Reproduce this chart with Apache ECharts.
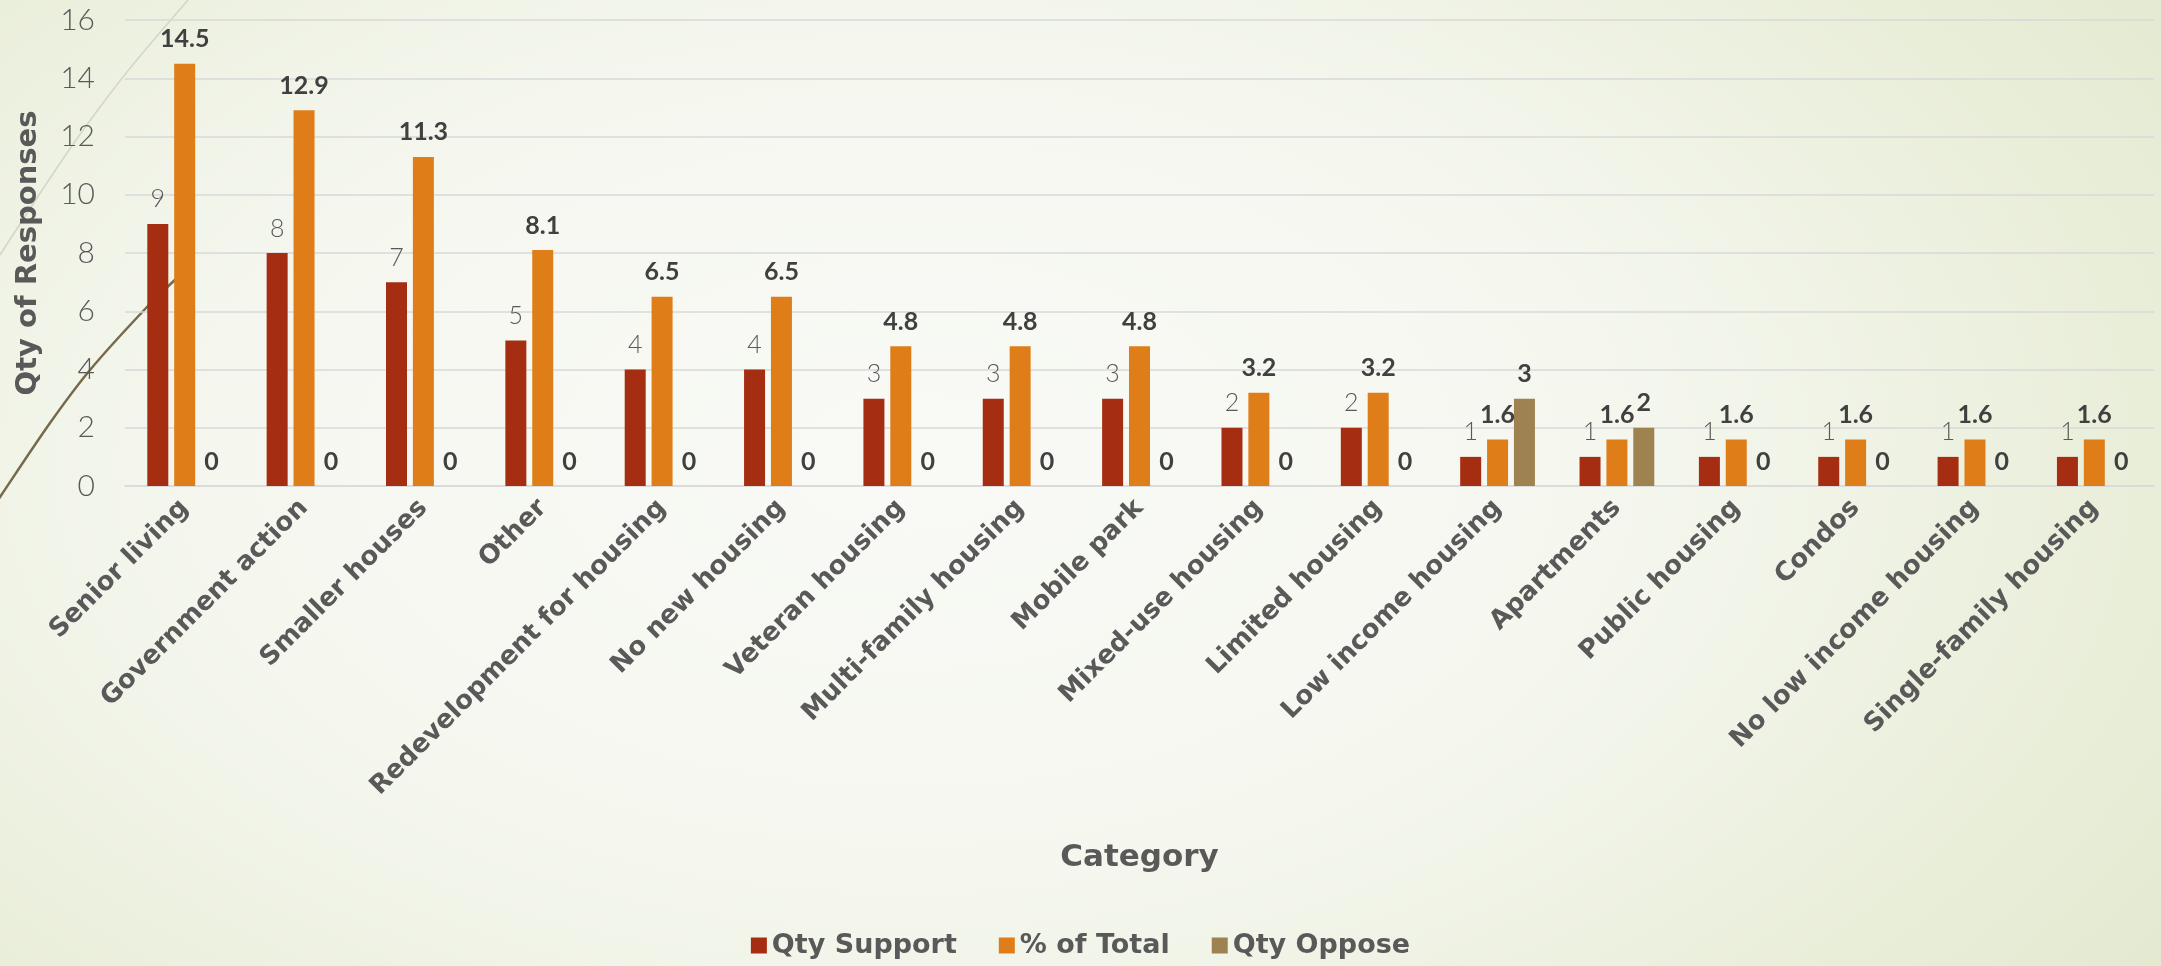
<!DOCTYPE html>
<html>
<head>
<meta charset="utf-8">
<script src="https://cdn.jsdelivr.net/npm/echarts@6/dist/echarts.min.js"></script>
<style>
  html, body { margin:0; padding:0; width:2161px; height:966px; overflow:hidden; }
  body { background: radial-gradient(ellipse 72% 95% at 42% 48%, #f9faf6 0%, #f5f7ef 45%, #e9eed9 80%, #e3e9cf 100%); }
  #chart { width:2161px; height:966px; }
</style>
</head>
<body>
<div id="chart"></div>
<script>
const categories = ["Senior living","Government action","Smaller houses","Other","Redevelopment for housing","No new housing","Veteran housing","Multi-family housing","Mobile park","Mixed-use housing","Limited housing","Low income housing","Apartments","Public housing","Condos","No low income housing","Single-family housing"];
const qtySupport = [9,8,7,5,4,4,3,3,3,2,2,1,1,1,1,1,1];
const pctTotal = [14.5,12.9,11.3,8.1,6.5,6.5,4.8,4.8,4.8,3.2,3.2,1.6,1.6,1.6,1.6,1.6,1.6];
const qtyOppose = [0,0,0,0,0,0,0,0,0,0,0,3,2,0,0,0,0];
const yTicks = { min: 0, max: 16, interval: 2 };

const FONT = 'Lato, "DejaVu Sans", sans-serif';
const WIDE = '"DejaVu Sans", Lato, sans-serif';
const chart = echarts.init(document.getElementById('chart'), null, { renderer: 'canvas' });

function lbl(weight, color) {
  return { show: true, position: 'top', distance: 12, fontFamily: FONT, fontSize: 25, fontWeight: weight, color: color };
}

chart.setOption({
  backgroundColor: 'transparent',
  animation: false,
  textStyle: { fontFamily: FONT },
  graphic: [
    { type: 'polyline', z: -10, silent: true,
      shape: { points: [[-5,505],[0,497],[50,423],[90,370],[147,307],[178,277]], smooth: 0.3 },
      style: { stroke: '#766a4c', lineWidth: 2.5, fill: null } },
    { type: 'polyline', z: -10, silent: true,
      shape: { points: [[0,255],[67,153],[123,77],[188,0]], smooth: 0.3 },
      style: { stroke: '#d3d6c6', lineWidth: 1.5, fill: null } }
  ],
  grid: { left: 125, right: 7, top: 20, bottom: 480, containLabel: false },
  legend: {
    bottom: 2, left: 'center',
    itemWidth: 16, itemHeight: 16, itemGap: 42,
    icon: 'rect',
    textStyle: { fontFamily: WIDE, fontSize: 27, fontWeight: 'bold', color: '#595959' },
    data: ['Qty Support','% of Total','Qty Oppose']
  },
  xAxis: {
    type: 'category',
    data: categories,
    name: 'Category',
    nameLocation: 'middle',
    nameGap: 356,
    nameTextStyle: { fontFamily: WIDE, fontSize: 31, fontWeight: 'bold', color: '#595959', verticalAlign: 'top' },
    axisTick: { show: false },
    axisLine: { show: true, lineStyle: { color: '#d9d9d9', width: 1.5 } },
    axisLabel: { rotate: 45, interval: 0, margin: 18, fontFamily: WIDE, fontSize: 26, fontWeight: 'bold', color: '#595959' }
  },
  yAxis: {
    type: 'value',
    min: yTicks.min, max: yTicks.max, interval: yTicks.interval,
    name: 'Qty of Responses',
    nameLocation: 'middle',
    nameRotate: 90,
    nameGap: 82,
    nameTextStyle: { fontFamily: WIDE, fontSize: 29, fontWeight: 'bold', color: '#595959' },
    axisLine: { show: false },
    axisTick: { show: false },
    axisLabel: { margin: 30, fontFamily: FONT, fontSize: 30, fontWeight: 300, color: '#595959' },
    splitLine: { lineStyle: { color: '#d9d9d9', width: 1.5 } }
  },
  series: [
    { name: 'Qty Support', type: 'bar', data: qtySupport, barWidth: 21, barGap: '28%',
      itemStyle: { color: '#a52e12' }, label: lbl(300, '#595959') },
    { name: '% of Total', type: 'bar', data: pctTotal, barWidth: 21, barGap: '28%',
      itemStyle: { color: '#df7e19' }, label: lbl('bold', '#404040') },
    { name: 'Qty Oppose', type: 'bar', data: qtyOppose, barWidth: 21, barGap: '28%',
      itemStyle: { color: '#9e8250' }, label: lbl('bold', '#404040') }
  ]
});
</script>
</body>
</html>
